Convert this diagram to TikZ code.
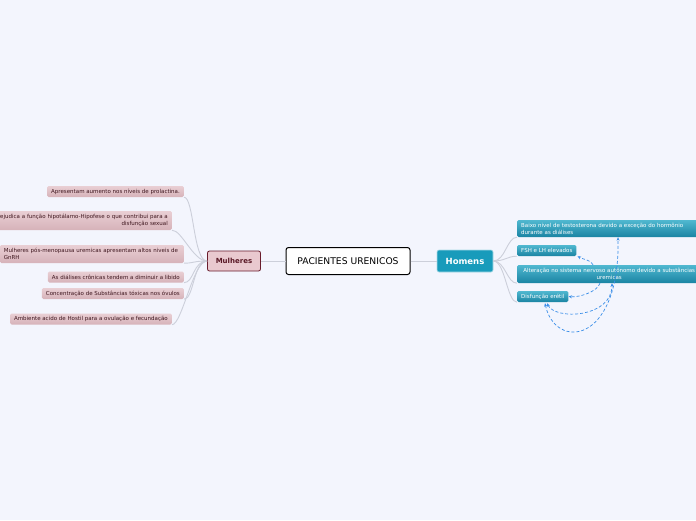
\documentclass[tikz,border=0pt]{standalone}
\usepackage{fontspec}
\setmainfont{DejaVu Sans}
\usetikzlibrary{calc,arrows.meta}

\definecolor{puPageBg}{RGB}{243,245,253}
\definecolor{puLine}{RGB}{204,207,218}
\definecolor{puHomBg}{RGB}{24,155,187}
\definecolor{puHomTop}{RGB}{80,184,208}
\definecolor{puHomBot}{RGB}{26,132,163}
\definecolor{puMulBg}{RGB}{233,201,207}
\definecolor{puMulLine}{RGB}{105,28,44}
\definecolor{puMulTop}{RGB}{233,207,212}
\definecolor{puMulBot}{RGB}{214,178,185}
\definecolor{puMulText}{RGB}{62,22,30}
\definecolor{puRel}{RGB}{58,142,232}

\begin{document}
\begin{tikzpicture}[x=1pt, y=-1pt,
  central/.style={draw=black, fill=white, line width=1pt, rounded corners=2.5pt,
    minimum width=124pt, minimum height=27pt, font=\fontsize{9.2}{10}\selectfont},
  homens/.style={fill=puHomBg, draw=white!65!puHomBg, line width=0.6pt, rounded corners=2pt,
    text=white, minimum width=56pt, minimum height=22pt, font=\fontsize{8.5}{10}\selectfont\bfseries},
  mulheres/.style={fill=puMulBg, draw=puMulLine, line width=0.8pt, rounded corners=2pt,
    text=puMulLine!85!black, minimum width=53pt, minimum height=20pt, font=\fontsize{7}{8}\selectfont\bfseries},
  homleaf/.style={top color=puHomTop, bottom color=puHomBot, rounded corners=1.5pt, text=white,
    inner xsep=4pt, inner ysep=0pt, minimum height=11pt, font=\fontsize{5.5}{7}\selectfont},
  mulleaf/.style={top color=puMulTop, bottom color=puMulBot, rounded corners=1.5pt, text=puMulText,
    inner xsep=4pt, inner ysep=0pt, minimum height=11pt, font=\fontsize{5.5}{7}\selectfont},
  branch/.style={draw=puLine, line width=0.9pt},
  rel/.style={draw=puRel, line width=0.7pt, dash pattern=on 3pt off 2pt,
    -{Stealth[length=3.5pt,width=3pt]}},
  relboth/.style={rel, {Stealth[length=3.5pt,width=3pt]}-{Stealth[length=3.5pt,width=3pt]}},
]
%% ── Page ─────────────────────────────────────────────────────────────────
\fill[puPageBg] (0,0) rectangle (696,520);
\useasboundingbox (0,0) rectangle (696,520);
%% ── Main topics ──────────────────────────────────────────────────────────
\node[central]  (cen) at (348,261) {PACIENTES URENICOS};
\node[homens]   (hom) at (465,261) {Homens};
\node[mulheres] (mul) at (234,261) {Mulheres};
%% ── Homens leaves ────────────────────────────────────────────────────────
\node[homleaf, anchor=west, text width=180pt, align=left, minimum height=17pt]
    (baixo) at (517,228.5) {Baixo nivel de testosterona devido a exceção do hormônio\\durante as diálises};
\node[homleaf, anchor=west] (fsh) at (517,250.5) {FSH e LH elevados};
\node[homleaf, anchor=west, text width=176pt, align=center, minimum height=18pt]
    (alter) at (517,274) {Alteração no sistema nervoso autônomo devido a substâncias\\uremicas};
\node[homleaf, anchor=west] (disf) at (517,296.5) {Disfunção erétil};
%% ── Mulheres leaves ──────────────────────────────────────────────────────
\node[mulleaf, anchor=east] (apres) at (184,191.5) {Apresentam aumento nos níveis de prolactina.};
\node[mulleaf, anchor=east, text width=180pt, align=right, minimum height=19pt]
    (prej) at (172,220.5) {Prejudica a função hipotálamo-Hipofese o que contribui para a\\disfunção sexual};
\node[mulleaf, anchor=east, text width=176pt, align=left, minimum height=18pt]
    (gnrh) at (184,254) {Mulheres pós-menopausa uremicas apresentam altos niveis de\\GnRH};
\node[mulleaf, anchor=east] (dial) at (184,277) {As diálises crônicas tendem a diminuir a libido};
\node[mulleaf, anchor=east] (conc) at (184,293.5) {Concentração de Substâncias tóxicas nos óvulos};
\node[mulleaf, anchor=east] (amb) at (172,319) {Ambiente acido de Hostil para a ovulação e fecundação};
%% ── Branches ─────────────────────────────────────────────────────────────
\draw[branch] (cen.west) -- (mul.east);
\draw[branch] (cen.east) -- (hom.west);
\foreach \leaf in {baixo,fsh,alter,disf}
  \draw[branch] (hom.east) .. controls +(12,0) and +(-10,0) .. (\leaf.south west);
\foreach \leaf in {apres,prej,gnrh,dial,conc,amb}
  \draw[branch] (mul.west) .. controls +(-14,0) and +(10,0) .. (\leaf.south east);
%% ── Relations ────────────────────────────────────────────────────────────
\draw[rel] ($(alter.north west)+(76,0)$) .. controls +(-4,-6) and +(7,4) .. ($(fsh.south east)+(1,0)$);
\draw[rel] ($(alter.south west)+(83,0)$) .. controls +(-3,9) and +(10,1) .. (disf.east);
\draw[relboth] ($(disf.south west)+(30,1)$) .. controls +(8,17) and +(0,35) .. ($(alter.south west)+(95,0)$);
\draw[relboth] ($(disf.south west)+(28,1)$) .. controls +(10,47) and +(2,108) .. ($(baixo.south west)+(101,0)$);
\end{tikzpicture}
\end{document}
